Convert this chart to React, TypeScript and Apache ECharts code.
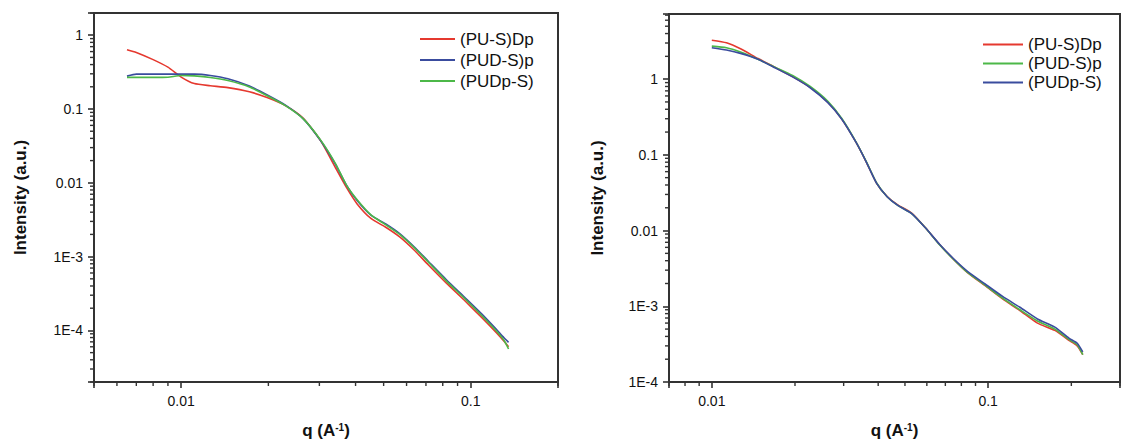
import React, { useEffect, useRef } from 'react';
import * as echarts from 'echarts';

// ---------- data ----------
const SERIES_NAMES = ['(PU-S)Dp', '(PUD-S)p', '(PUDp-S)'];

const LEFT_Q = [0.0065, 0.007, 0.008, 0.009, 0.01, 0.0111, 0.0126, 0.0145, 0.0172, 0.0199, 0.0229, 0.0264, 0.0304, 0.0341, 0.0372, 0.0405, 0.0453, 0.0507, 0.0568, 0.0637, 0.0714, 0.0822, 0.0948, 0.1092, 0.1223, 0.13, 0.135];
const LEFT_PUSDP = [0.636, 0.585, 0.467, 0.369, 0.271, 0.221, 0.207, 0.195, 0.171, 0.142, 0.111, 0.075, 0.0365, 0.016, 0.00866, 0.00518, 0.00326, 0.00252, 0.00185, 0.00123, 0.00077, 0.00044, 0.000258, 0.000149, 0.000094, 0.000072, 0.00006];
const LEFT_PUDSP = [0.279, 0.297, 0.297, 0.297, 0.297, 0.297, 0.285, 0.257, 0.205, 0.154, 0.113, 0.0735, 0.0365, 0.0178, 0.0093, 0.00574, 0.00361, 0.00279, 0.00205, 0.00136, 0.00086, 0.00049, 0.000285, 0.000166, 0.000104, 0.00008, 0.000069];
const LEFT_PUDPS = [0.268, 0.268, 0.268, 0.27, 0.285, 0.281, 0.268, 0.243, 0.199, 0.15, 0.111, 0.0735, 0.0373, 0.0182, 0.0093, 0.0059, 0.00365, 0.00272, 0.002, 0.00133, 0.00084, 0.00047, 0.000275, 0.000158, 0.000099, 0.000074, 0.000056];

const RIGHT_Q = [0.01, 0.0113, 0.0127, 0.0147, 0.017, 0.0196, 0.0227, 0.0263, 0.0295, 0.0332, 0.0362, 0.0395, 0.0431, 0.0471, 0.0529, 0.0594, 0.0667, 0.075, 0.0842, 0.0975, 0.1128, 0.1303, 0.1508, 0.1743, 0.196, 0.21, 0.22];
const RIGHT_PUSDP = [3.27, 3.02, 2.52, 1.87, 1.42, 1.08, 0.778, 0.495, 0.299, 0.148, 0.081, 0.0421, 0.0282, 0.0219, 0.017, 0.0108, 0.00656, 0.00417, 0.00279, 0.00187, 0.00125, 0.00088, 0.0006, 0.00048, 0.000355, 0.0003, 0.00023];
const RIGHT_PUDSP = [2.73, 2.6, 2.28, 1.83, 1.43, 1.12, 0.8, 0.51, 0.305, 0.15, 0.082, 0.0425, 0.028, 0.0215, 0.0168, 0.0108, 0.0065, 0.00415, 0.0028, 0.0019, 0.00128, 0.0009, 0.00064, 0.0005, 0.000365, 0.00031, 0.00023];
const RIGHT_PUDPS = [2.6, 2.42, 2.19, 1.83, 1.4, 1.07, 0.77, 0.49, 0.298, 0.148, 0.081, 0.042, 0.028, 0.0215, 0.0168, 0.0108, 0.0066, 0.00425, 0.0029, 0.00197, 0.00135, 0.00097, 0.00068, 0.00053, 0.00038, 0.000325, 0.00025];

const X_MAJOR = [0.01, 0.1];
const X_MAJOR_LABELS = ['0.01', '0.1'];
const Y_MAJOR = [1, 0.1, 0.01, 0.001, 0.0001];
const Y_MAJOR_LABELS = ['1', '0.1', '0.01', '1E-3', '1E-4'];
const MINOR_MULTS = [2, 3, 4, 5, 6, 7, 8, 9];
const DECADES = [-5, -4, -3, -2, -1, 0];

// ---------- styles ----------
const RED = '#e5392f';
const BLUE = '#3a4c9e';
const GREEN = '#4cb848';
const AXIS_COLOR = '#333333';
const TEXT_COLOR = '#111111';
const FONT = 'Liberation Sans, Arial, sans-serif';

const LEFT_RANGE = { xMin: 0.005, xMax: 0.2, yMin: 2e-5, yMax: 2 };
const RIGHT_RANGE = { xMin: 0.007, xMax: 0.3, yMin: 1e-4, yMax: 7.25 };

function minorTicks(min: number, max: number): number[] {
  const out: number[] = [];
  for (const d of DECADES) {
    for (const m of MINOR_MULTS) {
      const v = m * Math.pow(10, d);
      if (v >= min * 0.999 && v <= max * 1.001) out.push(v);
    }
  }
  return out;
}

function labelFormatter(majors: number[], labels: string[]) {
  return (v: number) => {
    const lv = Math.log10(v);
    for (let i = 0; i < majors.length; i++) {
      if (Math.abs(lv - Math.log10(majors[i])) < 0.01) return labels[i];
    }
    return '';
  };
}

function pairs(xs: number[], ys: number[]) {
  return xs.map((x, i) => [x, ys[i]]);
}

function xAxisDef(gridIndex: number, r: any) {
  return {
    type: 'log',
    logBase: 10,
    gridIndex,
    min: r.xMin,
    max: r.xMax,
    name: 'q (A{sup|-1})',
    nameLocation: 'middle',
    nameGap: 40,
    nameTextStyle: {
      fontSize: 17,
      fontWeight: 'bold',
      color: TEXT_COLOR,
      fontFamily: FONT,
      rich: {
        sup: { fontSize: 10, fontWeight: 'bold', color: TEXT_COLOR, fontFamily: FONT, verticalAlign: 'top', lineHeight: 10 },
      },
    },
    axisLine: { show: true, lineStyle: { color: AXIS_COLOR, width: 2 } },
    axisTick: { show: true, length: 6, lineStyle: { color: AXIS_COLOR, width: 1.6 } },
    axisLabel: {
      margin: 12,
      fontSize: 14,
      color: TEXT_COLOR,
      fontFamily: FONT,
      formatter: labelFormatter(X_MAJOR, X_MAJOR_LABELS),
    },
    splitLine: { show: false },
  };
}

function yAxisDef(gridIndex: number, r: any, gap: number) {
  return {
    type: 'log',
    logBase: 10,
    gridIndex,
    min: r.yMin,
    max: r.yMax,
    name: 'Intensity (a.u.)',
    nameLocation: 'middle',
    nameGap: gap,
    nameTextStyle: { fontSize: 17, fontWeight: 'bold', color: TEXT_COLOR, fontFamily: FONT },
    axisLine: { show: true, lineStyle: { color: AXIS_COLOR, width: 2 } },
    axisTick: { show: true, length: 6, lineStyle: { color: AXIS_COLOR, width: 1.6 } },
    axisLabel: {
      margin: 11,
      fontSize: 14,
      color: TEXT_COLOR,
      fontFamily: FONT,
      formatter: labelFormatter(Y_MAJOR, Y_MAJOR_LABELS),
    },
    splitLine: { show: false },
  };
}

function lineSeries(name: string, color: string, idx: number, xs: number[], ys: number[]) {
  return {
    type: 'line',
    name,
    xAxisIndex: idx,
    yAxisIndex: idx,
    data: pairs(xs, ys),
    showSymbol: false,
    symbol: 'none',
    smooth: 0.2,
    lineStyle: { color, width: 1.6 },
    itemStyle: { color },
    z: 3,
  };
}

const legendText = { fontSize: 17, color: TEXT_COLOR, fontFamily: FONT };

export default function App() {
  const ref = useRef<HTMLDivElement>(null);

  useEffect(() => {
    if (!ref.current) return;
    const chart = echarts.init(ref.current, undefined, { renderer: 'svg' });
    const option: any = {
      animation: false,
      backgroundColor: '#ffffff',
      grid: [
        { left: 94, top: 13, width: 464, height: 372, show: true, borderColor: AXIS_COLOR, borderWidth: 2, containLabel: false },
        { left: 669, top: 14, width: 461, height: 371, show: true, borderColor: AXIS_COLOR, borderWidth: 2, containLabel: false },
      ],
      xAxis: [xAxisDef(0, LEFT_RANGE), xAxisDef(1, RIGHT_RANGE)],
      yAxis: [yAxisDef(0, LEFT_RANGE, 65), yAxisDef(1, RIGHT_RANGE, 63)],
      legend: [
        {
          orient: 'vertical',
          left: 420,
          top: 29,
          padding: 0,
          icon: 'rect',
          itemWidth: 35,
          itemHeight: 2,
          itemGap: 1,
          selectedMode: false,
          textStyle: { ...legendText, lineHeight: 20 },
          data: [
            { name: SERIES_NAMES[0] },
            { name: SERIES_NAMES[1] },
            { name: SERIES_NAMES[2] },
          ],
        },
        {
          orient: 'vertical',
          left: 983,
          top: 35,
          padding: 0,
          icon: 'rect',
          itemWidth: 40,
          itemHeight: 2,
          itemGap: 0,
          selectedMode: false,
          textStyle: { ...legendText, lineHeight: 19 },
          data: [
            { name: SERIES_NAMES[0], itemStyle: { color: RED } },
            { name: SERIES_NAMES[1], itemStyle: { color: GREEN } },
            { name: SERIES_NAMES[2], itemStyle: { color: BLUE } },
          ],
        },
      ],
      series: [
        lineSeries(SERIES_NAMES[0], RED, 0, LEFT_Q, LEFT_PUSDP),
        lineSeries(SERIES_NAMES[1], BLUE, 0, LEFT_Q, LEFT_PUDSP),
        lineSeries(SERIES_NAMES[2], GREEN, 0, LEFT_Q, LEFT_PUDPS),
        lineSeries(SERIES_NAMES[0], RED, 1, RIGHT_Q, RIGHT_PUSDP),
        lineSeries(SERIES_NAMES[1], GREEN, 1, RIGHT_Q, RIGHT_PUDSP),
        lineSeries(SERIES_NAMES[2], BLUE, 1, RIGHT_Q, RIGHT_PUDPS),
      ],
    };
    chart.setOption(option);

    // minor (logarithmic) ticks placed through the chart's own scales
    const tickEls: any[] = [];
    const ranges = [LEFT_RANGE, RIGHT_RANGE];
    ranges.forEach((r, idx) => {
      minorTicks(r.xMin, r.xMax).forEach((v) => {
        const p = chart.convertToPixel({ gridIndex: idx } as any, [v, r.yMin]) as number[];
        if (!p) return;
        tickEls.push({
          type: 'line',
          silent: true,
          z: 10,
          shape: { x1: p[0], y1: p[1], x2: p[0], y2: p[1] + 4 },
          style: { stroke: AXIS_COLOR, lineWidth: 1.4 },
        });
      });
      minorTicks(r.yMin, r.yMax).forEach((v) => {
        const p = chart.convertToPixel({ gridIndex: idx } as any, [r.xMin, v]) as number[];
        if (!p) return;
        tickEls.push({
          type: 'line',
          silent: true,
          z: 10,
          shape: { x1: p[0], y1: p[1], x2: p[0] - 4, y2: p[1] },
          style: { stroke: AXIS_COLOR, lineWidth: 1.4 },
        });
      });
    });
    chart.setOption({ graphic: tickEls });

    return () => chart.dispose();
  }, []);

  return (
    <div
      ref={ref}
      style={{ position: 'absolute', left: 0, top: 0, width: 1123, height: 444, background: '#fff' }}
    />
  );
}
